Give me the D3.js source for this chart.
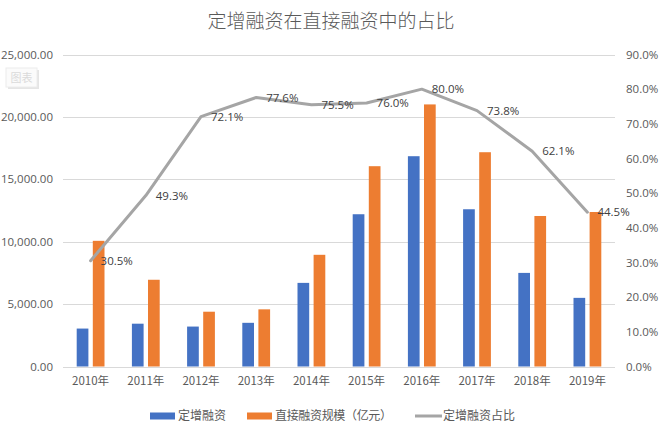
<!DOCTYPE html>
<html>
<head>
<meta charset="utf-8">
<script src="https://cdn.jsdelivr.net/npm/d3@7"></script>
<style>
body{margin:0;background:#fff;}
svg text{font-family:"Noto Sans CJK SC","Noto Sans",sans-serif;}
</style>
</head>
<body>
<svg id="chart" width="663" height="429"></svg>
<script>
const title = "定增融资在直接融资中的占比";
const categories = ["2010年","2011年","2012年","2013年","2014年","2015年","2016年","2017年","2018年","2019年"];
const placement = [3040, 3430, 3200, 3500, 6700, 12200, 16850, 12600, 7500, 5500];
const directFinancing = [10070, 6950, 4390, 4580, 8950, 16050, 21000, 17170, 12060, 12380];
const ratio = [30.5, 49.3, 72.1, 77.6, 75.5, 76.0, 80.0, 73.8, 62.1, 44.5];
const leftTicks = [0, 5000, 10000, 15000, 20000, 25000];
const rightTicks = [0, 10, 20, 30, 40, 50, 60, 70, 80, 90];
const seriesNames = ["定增融资", "直接融资规模（亿元）", "定增融资占比"];
const colors = ["#4472C4", "#ED7D31", "#A5A5A5"];

const svg = d3.select("#chart");
const pLeft = 63, pRight = 615, pTop = 54.5, pBottom = 366.5;
const textColor = "#595959";

const x = d3.scaleBand().domain(categories).range([pLeft, pRight]);
const yL = d3.scaleLinear().domain([0, 25000]).range([pBottom, pTop]);
const yR = d3.scaleLinear().domain([0, 90]).range([pBottom, pTop]);

// title
svg.append("text").attr("x", 331).attr("y", 28).attr("text-anchor", "middle")
  .attr("font-size", 19).attr("font-weight", 300).attr("fill", textColor).text(title);

// gridlines
svg.append("g").selectAll("line").data(leftTicks).join("line")
  .attr("x1", pLeft).attr("x2", pRight)
  .attr("y1", d => Math.round(yL(d)) + 0.5).attr("y2", d => Math.round(yL(d)) + 0.5)
  .attr("stroke", "#D9D9D9").attr("stroke-width", 1);

// left axis
const axL = d3.axisLeft(yL).tickValues(leftTicks).tickSize(0).tickPadding(10)
  .tickFormat(d => d3.format(",.2f")(d));
const gL = svg.append("g").attr("transform", `translate(${pLeft},0)`).call(axL);
gL.select(".domain").remove();
gL.selectAll("text").attr("font-size", 11.5).attr("fill", textColor)
  .style("font-family", "'Open Sans','Noto Sans',sans-serif");

// right axis
const axR = d3.axisRight(yR).tickValues(rightTicks).tickSize(0).tickPadding(11)
  .tickFormat(d => d.toFixed(1) + "%");
const gR = svg.append("g").attr("transform", `translate(${pRight},0)`).call(axR);
gR.select(".domain").remove();
gR.selectAll("text").attr("font-size", 11.5).attr("fill", textColor)
  .style("font-family", "'Open Sans','Noto Sans',sans-serif");

// x axis labels
const axX = d3.axisBottom(x).tickSize(0).tickPadding(10);
const gX = svg.append("g").attr("transform", `translate(0,${pBottom})`).call(axX);
gX.select(".domain").remove();
gX.selectAll("text").attr("font-size", 11.5).attr("fill", textColor);

// bars
const bw = 11.7, gap = 2.2;
svg.append("g").selectAll("rect").data(placement).join("rect")
  .attr("x", (d, i) => x(categories[i]) + x.bandwidth() / 2 - gap - bw)
  .attr("width", bw)
  .attr("y", d => yL(d)).attr("height", d => yL(0) - yL(d))
  .attr("fill", colors[0]);
svg.append("g").selectAll("rect").data(directFinancing).join("rect")
  .attr("x", (d, i) => x(categories[i]) + x.bandwidth() / 2 + gap)
  .attr("width", bw)
  .attr("y", d => yL(d)).attr("height", d => yL(0) - yL(d))
  .attr("fill", colors[1]);

// line
const cx = (i) => x(categories[i]) + x.bandwidth() / 2;
const line = d3.line().x((d, i) => cx(i)).y(d => yR(d));
svg.append("path").datum(ratio).attr("d", line)
  .attr("fill", "none").attr("stroke", colors[2]).attr("stroke-width", 3)
  .attr("stroke-linejoin", "round").attr("stroke-linecap", "round");

// data labels
svg.append("g").selectAll("text").data(ratio).join("text")
  .attr("x", (d, i) => cx(i) + 10).attr("y", d => yR(d))
  .attr("dy", "0.35em").attr("font-size", 11.5).attr("fill", "#404040")
  .style("font-family", "'Open Sans','Noto Sans',sans-serif")
  .text(d => d.toFixed(1) + "%");

// watermark box
const wm = svg.append("g");
wm.append("rect").attr("x", 8).attr("y", 70).attr("width", 31).attr("height", 19)
  .attr("fill", "#ccc").attr("opacity", 0.5);
wm.append("rect").attr("x", 6).attr("y", 68).attr("width", 31).attr("height", 19)
  .attr("fill", "#fbfbfb").attr("stroke", "#ececec");
wm.append("text").attr("x", 21.5).attr("y", 81.5).attr("text-anchor", "middle")
  .attr("font-size", 11).attr("fill", "#dadada").text("图表");

// legend
const leg = svg.append("g");
const ly = 416;
leg.append("rect").attr("x", 150).attr("y", ly - 3.5).attr("width", 25).attr("height", 7).attr("fill", colors[0]);
leg.append("text").attr("x", 178).attr("y", ly).attr("dy", "0.35em").attr("font-size", 12).attr("fill", textColor).text(seriesNames[0]);
leg.append("rect").attr("x", 247).attr("y", ly - 3.5).attr("width", 25).attr("height", 7).attr("fill", colors[1]);
leg.append("text").attr("x", 275).attr("y", ly).attr("dy", "0.35em").attr("font-size", 12).attr("fill", textColor)
  .attr("textLength", 117).attr("lengthAdjust", "spacing").text(seriesNames[1]);
leg.append("line").attr("x1", 415).attr("x2", 442).attr("y1", ly).attr("y2", ly).attr("stroke", colors[2]).attr("stroke-width", 3);
leg.append("text").attr("x", 443).attr("y", ly).attr("dy", "0.35em").attr("font-size", 12).attr("fill", textColor).text(seriesNames[2]);
</script>
</body>
</html>
